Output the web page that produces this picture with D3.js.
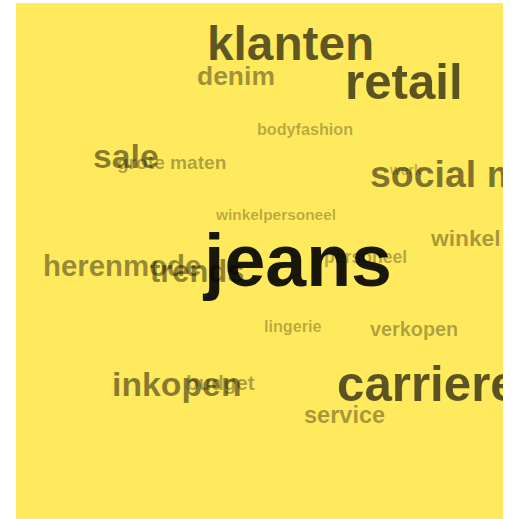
<!DOCTYPE html>
<html>
<head>
<meta charset="utf-8">
<script src="https://cdn.jsdelivr.net/npm/d3@7"></script>
<style>
  html, body { margin: 0; padding: 0; background: #ffffff; }
  svg { display: block; }
</style>
</head>
<body>
<div id="chart"></div>
<script>
// Word cloud data: word, weight (frequency), and layout position (cloud units)
const words   = ["jeans", "klanten", "retail", "carriere", "social media", "sale", "inkopen", "trends", "herenmode", "denim", "service", "winkel", "verkopen", "budget", "grote maten", "personeel", "bodyfashion", "lingerie", "winkelpersoneel", "werk"];
const weights = [100, 65, 67, 67, 51, 46, 46, 42, 40, 36, 32, 31, 27, 28, 26, 24, 22, 22, 21, 19];
const posX    = [188, 191, 329, 321, 354, 77, 96, 134, 27, 181, 288, 415, 354, 170, 101, 308, 241, 248, 200, 374];
const posY    = [283, 57, 96, 398, 184, 165, 393, 279, 273, 82, 420, 243, 333, 387, 166, 260, 132, 329, 217, 172];

const W = 515, H = 519;
const box = { x: 16, y: 3, w: 487, h: 516 };

const svg = d3.select("#chart").append("svg")
  .attr("width", W).attr("height", H);

const x = d3.scaleLinear().domain([0, box.w]).range([box.x, box.x + box.w]);
const y = d3.scaleLinear().domain([0, box.h]).range([box.y, box.y + box.h]);
const size = d3.scaleLinear().domain([0, 100]).range([0, 73.5]);
const opacity = d3.scaleLinear().domain([0, 100]).range([0.12, 0.9]);

svg.append("defs").append("clipPath").attr("id", "clip")
  .append("rect")
  .attr("x", box.x).attr("y", box.y).attr("width", box.w).attr("height", box.h);

svg.append("rect")
  .attr("x", box.x).attr("y", box.y).attr("width", box.w).attr("height", box.h)
  .attr("fill", "#ffe95c");

const data = words.map((w, i) => ({ text: w, weight: weights[i], px: posX[i], py: posY[i] }));
// draw smaller words first so big ones sit on top
data.sort((a, b) => a.weight - b.weight);

svg.append("g").attr("clip-path", "url(#clip)")
  .selectAll("text")
  .data(data)
  .join("text")
  .attr("x", d => x(d.px))
  .attr("y", d => y(d.py))
  .attr("font-family", "'Liberation Sans', Arial, Helvetica, sans-serif")
  .attr("font-weight", "bold")
  .attr("font-size", d => size(d.weight) + "px")
  .attr("fill", "#000")
  .attr("fill-opacity", d => opacity(d.weight))
  .text(d => d.text);
</script>
</body>
</html>
